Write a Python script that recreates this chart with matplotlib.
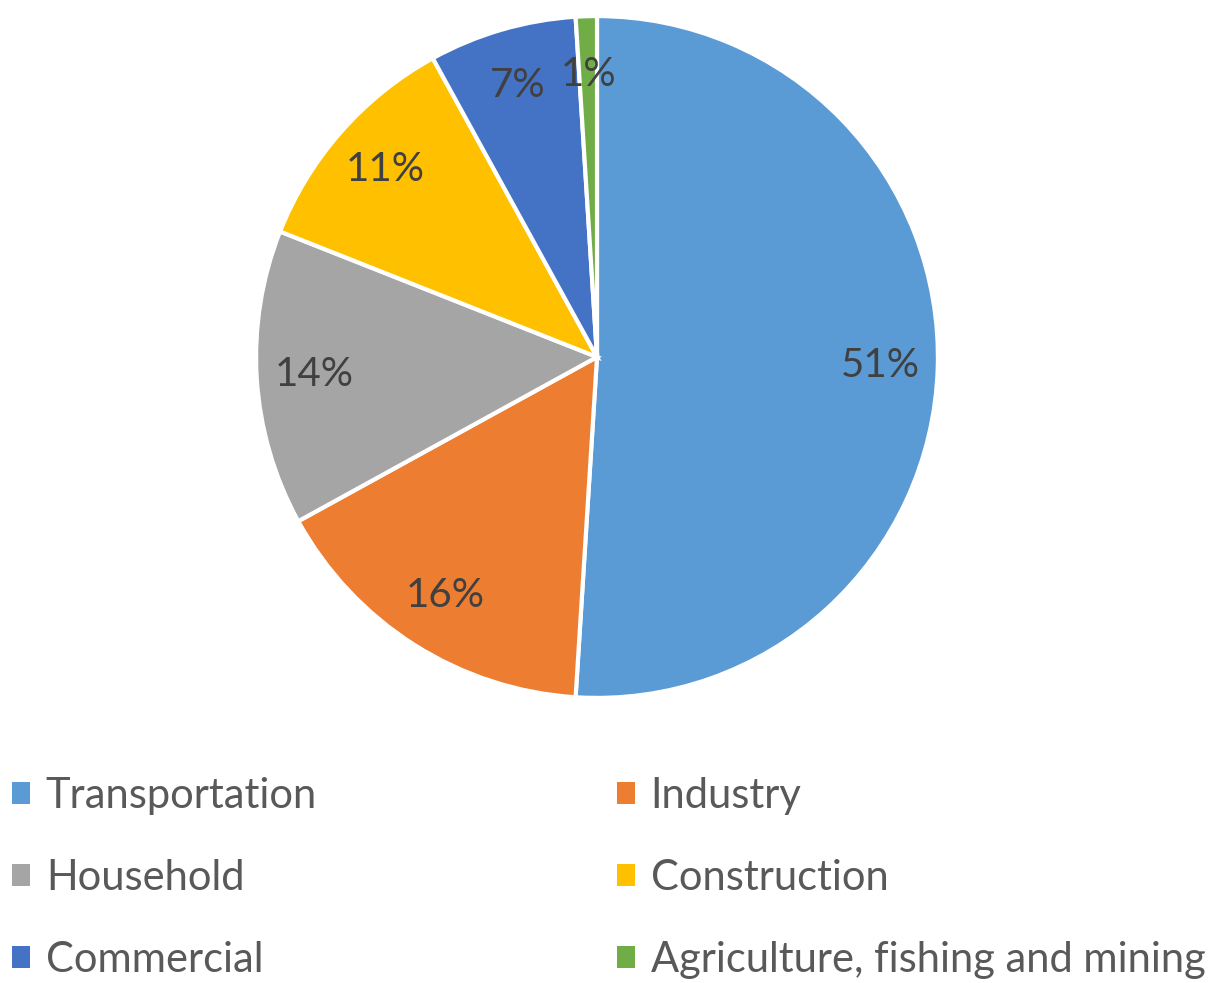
import matplotlib.pyplot as plt
from matplotlib.patches import Patch

plt.rcParams['font.family'] = ['Lato', 'DejaVu Sans']

sectors = ['Transportation', 'Industry', 'Household', 'Construction',
           'Commercial', 'Agriculture, fishing and mining']
shares = [51, 16, 14, 11, 7, 1]
colors = ['#5B9BD5', '#ED7D31', '#A5A5A5', '#FFC000', '#4472C4', '#70AD47']

W, H = 1208, 983
fig = plt.figure(figsize=(W / 100, H / 100), dpi=100)
# pie centre ~ (597, 357) px, radius ~ 341 px
half = 345
ax = fig.add_axes([(597 - half) / W, 1 - (357 + half) / H, 2 * half / W, 2 * half / H])

wedges, texts, autotexts = ax.pie(
    shares, colors=colors, startangle=90, counterclock=False,
    autopct='%d%%', pctdistance=0.83, radius=1,
    wedgeprops=dict(edgecolor='white', linewidth=3),
    textprops=dict(color='#404040', fontsize=29))
ax.set_xlim(-1.012, 1.012)
ax.set_ylim(-1.012, 1.012)

# legend in two columns, row-wise order like excel
order = [0, 2, 4, 1, 3, 5]
handles = [Patch(facecolor=colors[i], edgecolor='none') for i in order]
labels = [sectors[i] for i in order]
fig.legend(handles, labels, ncol=2, loc='center left',
           bbox_to_anchor=(12 / W, 1 - 878 / H), frameon=False,
           borderpad=0, borderaxespad=0,
           fontsize=30, labelcolor='#595959',
           handlelength=0.43, handleheight=0.43, handletextpad=0.38,
           columnspacing=7.2, labelspacing=1.05)

fig.savefig('out.png', dpi=100)
